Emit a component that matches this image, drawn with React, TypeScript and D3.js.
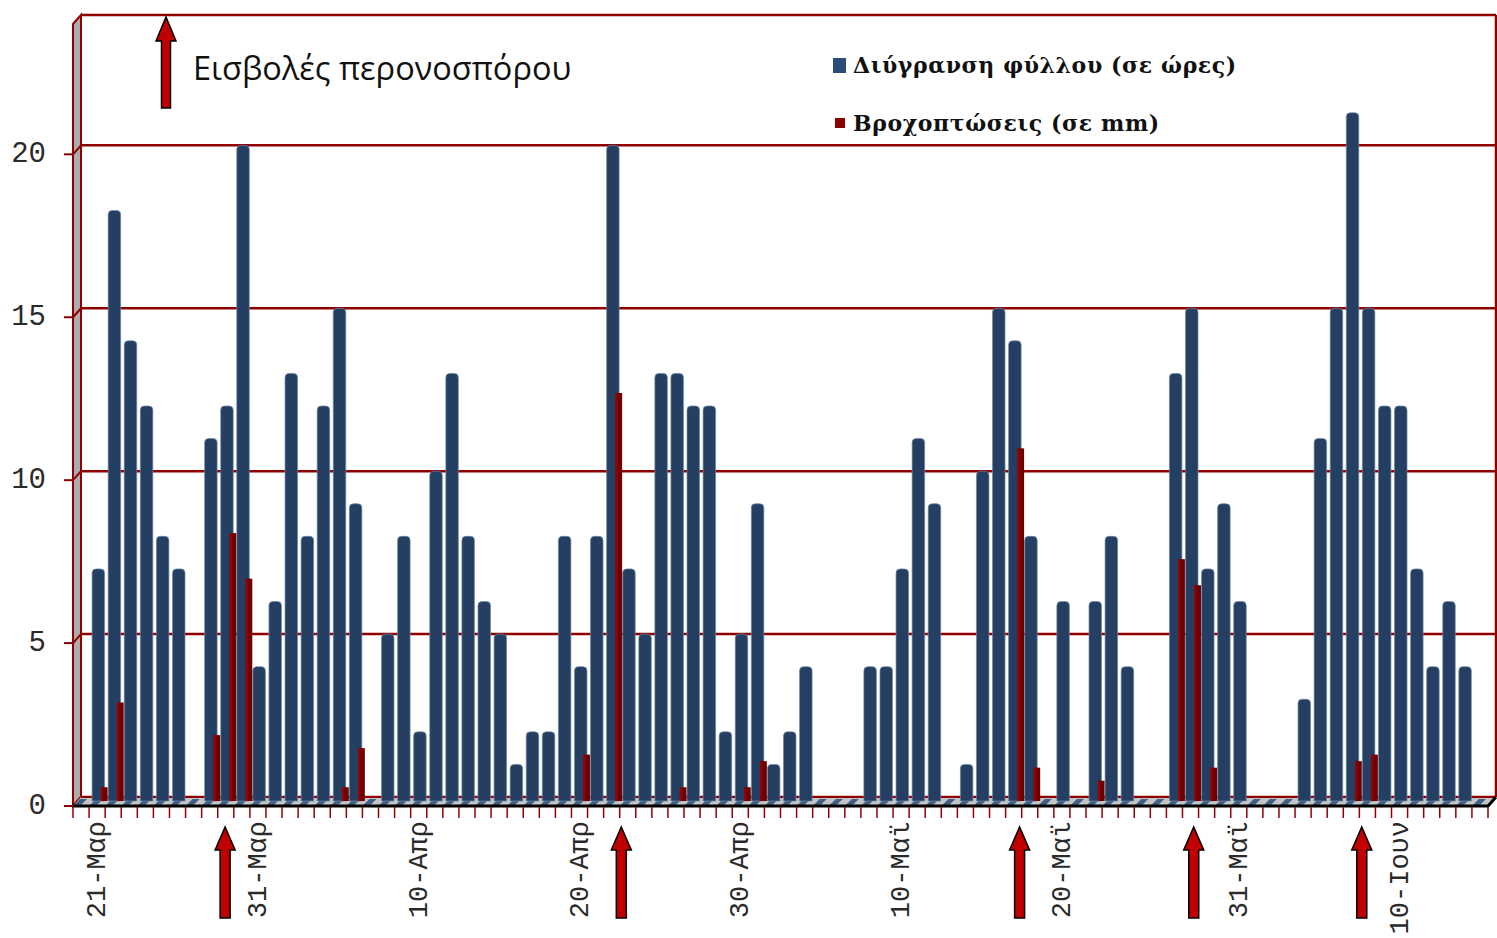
import * as d3 from "d3";

// daily values, 20-Μαρ .. 15-Ιουν
const leafWetness = [
  0, 7, 18, 14, 12, 8, 7, 0, 11, 12, 20, 4, 6, 13, 8, 12, 15, 9, 0, 5, 8, 2, 10,
  13, 8, 6, 5, 1, 2, 2, 8, 4, 8, 20, 7, 5, 13, 13, 12, 12, 2, 5, 9, 1, 2, 4, 0, 0,
  0, 4, 4, 7, 11, 9, 0, 1, 10, 15, 14, 8, 0, 6, 0, 6, 8, 4, 0, 0, 13, 15, 7, 9, 6,
  0, 0, 0, 3, 11, 15, 21, 15, 12, 12, 7, 4, 6, 4, 0,
];

const rainfall = [
  0, 0.3, 2.9, 0, 0, 0, 0, 0, 1.9, 8.1, 6.7, 0, 0, 0, 0, 0, 0.3, 1.5, 0, 0, 0, 0,
  0, 0, 0, 0, 0, 0, 0, 0, 0, 1.3, 0, 12.4, 0, 0, 0, 0.3, 0, 0, 0, 0.3, 1.1, 0, 0,
  0, 0, 0, 0, 0, 0, 0, 0, 0, 0, 0, 0, 0, 10.7, 0.9, 0, 0, 0, 0.5, 0, 0, 0, 0, 7.3,
  6.5, 0.9, 0, 0, 0, 0, 0, 0, 0, 0, 1.1, 1.3, 0, 0, 0, 0, 0, 0, 0,
];

const monthNames = ["Ιαν", "Φεβ", "Μαρ", "Απρ", "Μαϊ", "Ιουν"];
const labelDates = ["2010-03-21", "2010-03-31", "2010-04-10", "2010-04-20", "2010-04-30", "2010-05-10", "2010-05-20", "2010-05-31", "2010-06-10"];
const yTicks = [0, 5, 10, 15, 20];

// infection events (position on the day axis, read from the arrows)
const infections = [9.46, 34.1, 58.87, 69.7, 80.15];

const legendInfection = "Εισβολές περονοσπόρου";
const legendSeries = ["Διύγρανση φύλλου (σε ώρες)", "Βροχοπτώσεις (σε mm)"];

const RED = "#900000";
const BLUE = "#243f61";

const start = new Date(2010, 2, 20);
const days = d3.timeDay.range(start, d3.timeDay.offset(start, leafWetness.length));
const parse = d3.timeParse("%Y-%m-%d");

const arrowPath = (cx: number, top: number, bottom: number, headW: number, shaftW: number, headH: number) =>
  `M${cx},${top} L${cx + headW / 2},${top + headH} L${cx + shaftW / 2},${top + headH} L${cx + shaftW / 2},${bottom} L${cx - shaftW / 2},${bottom} L${cx - shaftW / 2},${top + headH} L${cx - headW / 2},${top + headH} Z`;

const topRounded = (x: number, y: number, w: number, h: number, r: number) =>
  `M${x},${y + h} L${x},${y + r} Q${x},${y} ${x + r},${y} L${x + w - r},${y} Q${x + w},${y} ${x + w},${y + r} L${x + w},${y + h} Z`;

export default function App() {
  const width = 1497;
  const height = 938;
  const dx = 8;
  const dy = -9;
  const left = 73;
  const right = 1488;
  const floorY = 806;

  const x = d3
    .scaleBand<number>()
    .domain(d3.range(leafWetness.length))
    .range([left, right])
    .padding(0);
  const bw = x.bandwidth();
  const xc = d3.scaleLinear().domain([0, leafWetness.length]).range([left, right]);

  const yFront = d3.scaleLinear().domain([0, 24]).range([floorY, floorY - 782]);
  const yBack = (v: number) => yFront(v) + dy;

  const dayIndex = (s: string) => days.findIndex((d) => +d === +(parse(s) as Date));
  const fmt = (s: string) => {
    const d = parse(s) as Date;
    return `${d.getDate()}-${monthNames[d.getMonth()]}`;
  };

  const barBottom = floorY - 5;

  return (
    <svg
      width={width}
      height={height}
      style={{ position: "absolute", left: 0, top: 0, background: "#fff" }}
    >
      {/* back wall gridlines */}
      {yTicks.concat([24]).map((t) => (
        <line
          key={`g${t}`}
          x1={left + dx}
          x2={right + dx}
          y1={yBack(t)}
          y2={yBack(t)}
          stroke={RED}
          strokeWidth={2.5}
        />
      ))}
      <line x1={right + dx} x2={right + dx} y1={yBack(24)} y2={yBack(0)} stroke={RED} strokeWidth={2.5} />

      {/* left wall */}
      <polygon
        points={`${left},${yFront(24)} ${left + dx},${yBack(24)} ${left + dx},${yBack(0)} ${left},${floorY}`}
        fill="#acacac"
        stroke={RED}
        strokeWidth={2}
      />
      {yTicks.map((t) => (
        <g key={`yt${t}`}>
          <line x1={left - 9} x2={left} y1={yFront(t)} y2={yFront(t)} stroke={RED} strokeWidth={2} />
          <line x1={left} x2={left + dx} y1={yFront(t)} y2={yBack(t)} stroke={RED} strokeWidth={2} />
          <text
            x={46}
            y={yFront(t)}
            textAnchor="end"
            dominantBaseline="central"
            fontFamily="Liberation Mono, monospace"
            fontSize={29}
            fill="#2a2a2a"
          >
            {t}
          </text>
        </g>
      ))}

      {/* floor */}
      <polygon
        points={`${left},${floorY} ${right},${floorY} ${right + dx},${yBack(0)} ${left + dx},${yBack(0)}`}
        fill="#c4c4c4"
      />
      <line x1={left + dx} x2={right + dx} y1={yBack(0)} y2={yBack(0)} stroke={RED} strokeWidth={2} />
      {leafWetness.map((_, i) => {
        const bx = (x(i) as number) + 3;
        return (
          <polygon
            key={`s${i}`}
            points={`${bx - 2},${floorY - 1} ${bx + 5},${floorY - 1} ${bx + 11},${yBack(0) + 2} ${bx + 4},${yBack(0) + 2}`}
            fill="#3d5f88"
          />
        );
      })}

      {/* leaf wetness bars */}
      {leafWetness.map((v, i) =>
        v > 0 ? (
          <path
            key={`b${i}`}
            d={topRounded((x(i) as number) + 3, yBack(v), 12.5, barBottom - yBack(v), 4)}
            fill={BLUE}
            stroke="#6d86a6"
            strokeWidth={0.7}
          />
        ) : null,
      )}

      {/* rainfall bars */}
      {rainfall.map((v, i) =>
        v > 0 ? (
          <g key={`r${i}`}>
            <rect
              x={(x(i) as number) + 12}
              y={yBack(v)}
              width={6.5}
              height={barBottom - yBack(v)}
              fill="#6e0000"
            />
            <rect
              x={(x(i) as number) + 12}
              y={yBack(v)}
              width={2}
              height={barBottom - yBack(v)}
              fill="#9a0000"
            />
          </g>
        ) : null,
      )}

      {/* floor front edge */}
      <polyline
        points={`${left},${floorY} ${right},${floorY} ${right + dx},${yBack(0)}`}
        fill="none"
        stroke="#000"
        strokeWidth={3}
      />

      {/* x ticks */}
      {d3.range(leafWetness.length + 1).map((i) => (
        <line
          key={`xt${i}`}
          x1={xc(i)}
          x2={xc(i)}
          y1={floorY + 1}
          y2={floorY + 12}
          stroke={RED}
          strokeWidth={1.5}
        />
      ))}
      {labelDates.map((s) => {
        const i = dayIndex(s);
        const cx = (x(i) as number) + bw / 2 + 1;
        return (
          <text
            key={s}
            transform={`translate(${cx},${floorY + 15}) rotate(-90)`}
            textAnchor="end"
            dominantBaseline="central"
            fontFamily="Liberation Mono, monospace"
            fontSize={27}
            fill="#2a2a2a"
          >
            {fmt(s)}
          </text>
        );
      })}

      {/* infection arrows */}
      {infections.map((p, i) => (
        <path
          key={`a${i}`}
          d={arrowPath(xc(p), floorY + 21, floorY + 112, 20, 10, 23)}
          fill="#c00000"
          stroke="#000"
          strokeWidth={1.5}
        />
      ))}

      {/* legend */}
      <path d={arrowPath(166, 17, 108, 20, 9, 24)} fill="#c00000" stroke="#000" strokeWidth={1.5} />
      <text x={193} y={80} fontFamily="Open Sans, Noto Sans, sans-serif" fontSize={32.5} fill="#111">
        {legendInfection}
      </text>
      <rect x={833} y={58} width={13} height={15} fill="#2a4d7a" />
      <text
        x={853}
        y={73}
        fontFamily="DejaVu Serif, serif"
        fontWeight="bold"
        fontSize={22}
        letterSpacing={0.6}
        fill="#111"
      >
        {legendSeries[0]}
      </text>
      <rect x={835} y={118} width={10} height={10} fill="#8b0000" />
      <text
        x={853}
        y={131}
        fontFamily="DejaVu Serif, serif"
        fontWeight="bold"
        fontSize={22}
        letterSpacing={0.6}
        fill="#111"
      >
        {legendSeries[1]}
      </text>
    </svg>
  );
}
